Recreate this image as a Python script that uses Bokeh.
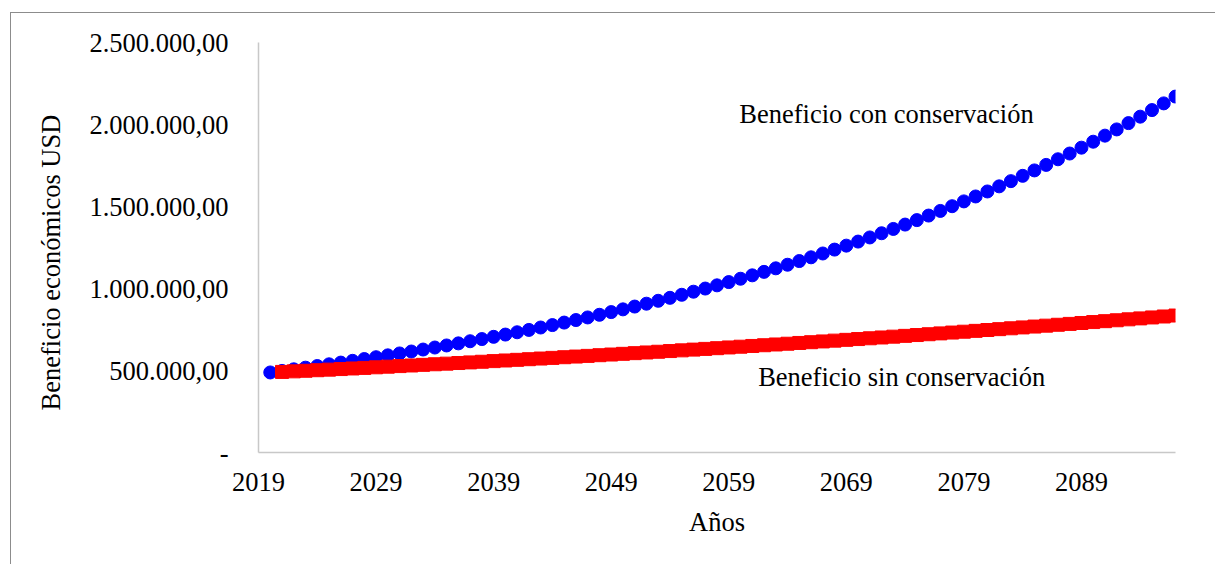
from bokeh.plotting import figure
from bokeh.models import Range1d, FixedTicker, Label, Title
from bokeh.embed import file_html
from bokeh.resources import INLINE

# ---------------- data ----------------
years_con = list(range(2020, 2098))
beneficio_con = [
    488.0, 497.6, 507.3, 517.2, 527.3, 537.7, 548.2, 558.9, 569.9, 581.0,
    592.4, 604.0, 615.8, 627.8, 640.1, 652.7, 665.4, 678.4, 691.7, 705.3,
    719.1, 733.1, 747.5, 762.1, 777.0, 792.2, 807.7, 823.5, 839.7, 856.1,
    872.8, 889.9, 907.3, 925.1, 943.2, 961.7, 980.5, 999.7, 1019.2, 1039.2,
    1059.5, 1080.3, 1101.4, 1123.0, 1144.9, 1167.3, 1190.2, 1213.5, 1237.2, 1261.4,
    1286.1, 1311.3, 1336.9, 1363.1, 1389.8, 1417.0, 1444.7, 1473.0, 1501.8, 1531.2,
    1561.2, 1591.7, 1622.9, 1654.6, 1687.0, 1720.0, 1753.7, 1788.0, 1823.0, 1858.7,
    1895.1, 1932.1, 1970.0, 2008.5, 2047.8, 2087.9, 2128.8, 2170.4,
]
beneficio_con = [v * 1000 for v in beneficio_con]

years_sin = list(range(2021, 2098))
beneficio_sin = [
    491.4, 494.8, 498.3, 501.8, 505.3, 508.8, 512.4, 516.0, 519.6, 523.3,
    526.9, 530.6, 534.3, 538.1, 541.8, 545.6, 549.4, 553.3, 557.2, 561.1,
    565.0, 568.9, 572.9, 576.9, 581.0, 585.0, 589.1, 593.3, 597.4, 601.6,
    605.8, 610.0, 614.3, 618.6, 622.9, 627.3, 631.7, 636.1, 640.6, 645.1,
    649.6, 654.1, 658.7, 663.3, 667.9, 672.6, 677.3, 682.1, 686.9, 691.7,
    696.5, 701.4, 706.3, 711.2, 716.2, 721.2, 726.3, 731.4, 736.5, 741.7,
    746.9, 752.1, 757.4, 762.7, 768.0, 773.4, 778.8, 784.2, 789.7, 795.3,
    800.8, 806.4, 812.1, 817.8, 823.5, 829.3, 835.1,
]
beneficio_sin = [v * 1000 for v in beneficio_sin]

x_ticks = [2019, 2029, 2039, 2049, 2059, 2069, 2079, 2089]
x_tick_labels = ["2019", "2029", "2039", "2049", "2059", "2069", "2079", "2089"]
y_ticks = [0, 500000, 1000000, 1500000, 2000000, 2500000]
y_tick_labels = ["-", "500.000,00", "1.000.000,00", "1.500.000,00", "2.000.000,00", "2.500.000,00"]

FONT = "Liberation Serif"
FS = "26.5px"

p = figure(
    width=1205, height=552,
    x_range=Range1d(2019, 2097), y_range=Range1d(0, 2500000),
    output_backend="svg", toolbar_location=None,
    min_border_left=247, min_border_right=41, min_border_top=29, min_border_bottom=113,
)
p.styles = {
    "margin-left": "10px", "margin-top": "12px",
    "border-top": "1px solid #8c8c8c", "border-left": "1px solid #8c8c8c",
}
p.outline_line_color = None
p.background_fill_color = "white"
p.border_fill_color = "white"
p.xgrid.visible = False
p.ygrid.visible = False

for ax in (p.xaxis[0], p.yaxis[0]):
    ax.axis_line_color = "#c8c8c8"
    ax.axis_line_width = 1.5
    ax.major_tick_out = 0
    ax.major_tick_in = 0
    ax.minor_tick_out = 0
    ax.minor_tick_in = 0
    ax.major_label_text_font = FONT
    ax.major_label_text_font_size = FS
    ax.major_label_text_color = "black"

p.xaxis.ticker = FixedTicker(ticks=x_ticks)
p.xaxis.major_label_overrides = {t: l for t, l in zip(x_ticks, x_tick_labels)}
p.xaxis.major_label_standoff = 20
p.xaxis.axis_label = "Años"
p.xaxis.axis_label_text_font = FONT
p.xaxis.axis_label_text_font_size = FS
p.xaxis.axis_label_text_font_style = "normal"
p.xaxis.axis_label_text_color = "black"
p.xaxis.axis_label_standoff = 13

p.yaxis.ticker = FixedTicker(ticks=y_ticks)
p.yaxis.major_label_overrides = {t: l for t, l in zip(y_ticks, y_tick_labels)}
p.yaxis.major_label_standoff = 30

p.scatter(years_con, beneficio_con, marker="circle", size=13,
          fill_color="#0000ff", line_color="#0000ff")
p.scatter(years_sin, beneficio_sin, marker="square", size=13,
          fill_color="#ff0000", line_color="#ff0000")

p.add_layout(Label(x=2059.9, y=2067000, text="Beneficio con conservación",
                   text_font=FONT, text_font_size=FS, text_color="black",
                   text_baseline="middle", text_align="left"))
p.add_layout(Label(x=2061.5, y=463000, text="Beneficio sin conservación",
                   text_font=FONT, text_font_size=FS, text_color="black",
                   text_baseline="middle", text_align="left"))

p.add_layout(Title(text="Beneficio económicos USD", align="left", offset=42,
                   standoff=42, text_font=FONT, text_font_size=FS,
                   text_font_style="normal", text_color="black"), "left")

open("out.html", "w").write(file_html(p, INLINE))
